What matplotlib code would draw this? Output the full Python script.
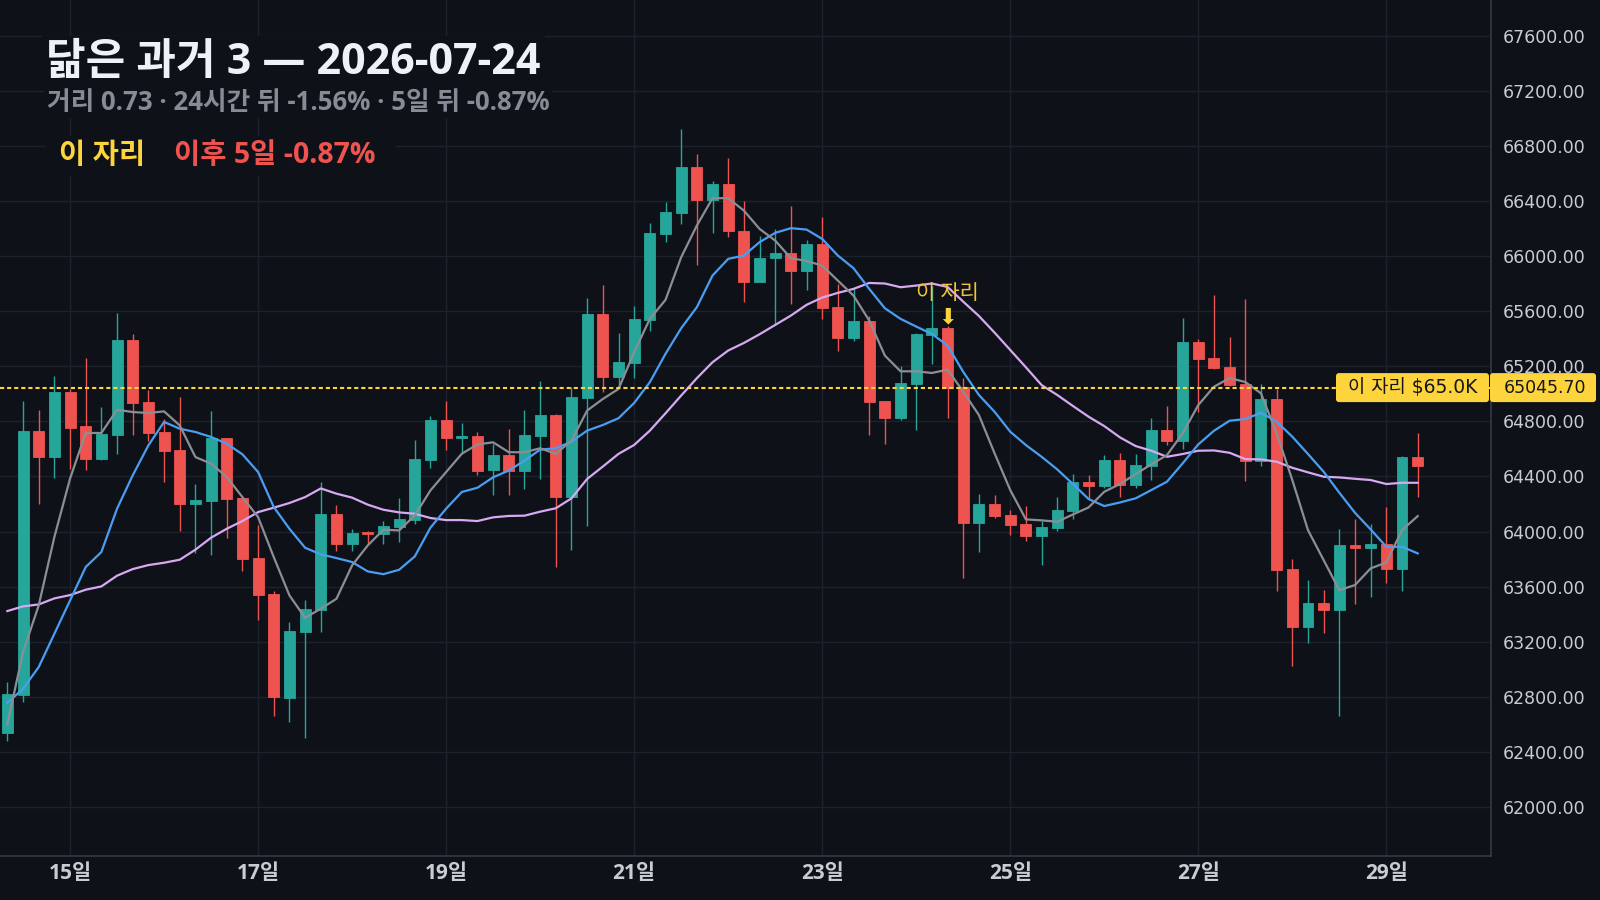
import numpy as np
import pandas as pd
import matplotlib
matplotlib.use("Agg")
import matplotlib.pyplot as plt
from matplotlib.patches import FancyBboxPatch
from matplotlib.ticker import MultipleLocator, FixedLocator
from matplotlib.transforms import IdentityTransform

plt.rcParams['font.family'] = ['Open Sans', 'Noto Sans CJK KR', 'DejaVu Sans']
num_font = ['DejaVu Sans', 'Noto Sans CJK KR']

# 4h candles
opens = [62535, 62811, 64728, 64541, 65011, 64764, 64527, 64701, 65389, 64938,
         64720, 64590, 64200, 64221, 64677, 64240, 63805, 63543, 62790, 63269,
         63427, 64124, 63906, 64000, 63980, 64030, 64081, 64517, 64808, 64677,
         64692, 64447, 64556, 64442, 64697, 64847, 64254, 64973, 65581, 65126,
         65228, 65538, 66163, 66315, 66650, 66412, 66526, 66184, 65816, 65986,
         66024, 65896, 66090, 65632, 65409, 65530, 64949, 64828, 65075, 65431,
         65479, 65052, 64064, 64199, 64119, 64054, 63969, 64027, 64151, 64359,
         64333, 64519, 64340, 64478, 64737, 64660, 65377, 65261, 65195, 65072,
         64514, 64963, 63727, 63308, 63480, 63429, 63901, 63880, 63909, 63727,
         64541]
highs = [62903, 64946, 64880, 65128, 65038, 65258, 64902, 65585, 65433, 65026,
         64815, 64975, 64343, 64873, 64680, 64240, 64044, 63565, 63339, 63499,
         64357, 64190, 64015, 64005, 64074, 64241, 64662, 64837, 64946, 64786,
         64720, 64636, 64745, 64883, 65094, 64855, 65048, 65698, 65792, 65443,
         65637, 66243, 66395, 66926, 66744, 66548, 66715, 66402, 66146, 66199,
         66364, 66119, 66286, 65799, 65768, 65564, 64949, 65201, 65443, 65782,
         65490, 65113, 64272, 64265, 64156, 64185, 64073, 64250, 64417, 64410,
         64555, 64570, 64563, 64824, 64912, 65551, 65399, 65718, 65413, 65689,
         65072, 65035, 63800, 63647, 63574, 64018, 64090, 64054, 64178, 64551,
         64715]
lows = [62475, 62760, 64200, 64389, 64452, 64444, 64520, 64563, 64701, 64657,
        64359, 64003, 63846, 63829, 63952, 63713, 63354, 62656, 62613, 62500,
        63269, 63858, 63858, 63906, 63906, 63923, 64052, 64461, 64590, 64570,
        64408, 64268, 64268, 64309, 64382, 63745, 63866, 64043, 65017, 65066,
        65116, 65460, 66106, 66235, 65937, 66170, 66143, 65671, 65816, 65511,
        65656, 65758, 65547, 65315, 65387, 64704, 64639, 64813, 64740, 65220,
        64828, 63664, 63853, 64100, 63976, 63933, 63758, 64005, 64093, 64241,
        64318, 64253, 64318, 64376, 64631, 64602, 64870, 65181, 65059, 64367,
        64478, 63569, 63024, 63191, 63264, 62658, 63475, 63526, 63628, 63569,
        64253]
closes = [62816, 64728, 64541, 65011, 64752, 64527, 64706, 65389, 64934, 64716,
          64585, 64200, 64226, 64677, 64236, 63800, 63538, 62797, 63274, 63434,
          64124, 63906, 63991, 63980, 64037, 64088, 64524, 64808, 64677, 64692,
          64437, 64556, 64442, 64702, 64847, 64254, 64978, 65581, 65126, 65232,
          65545, 66170, 66323, 66650, 66412, 66526, 66180, 65816, 65988, 66024,
          65896, 66090, 65627, 65409, 65530, 64944, 64828, 65080, 65436, 65479,
          65045.70, 64064, 64199, 64115, 64049, 63969, 64032, 64156, 64359, 64333,
          64519, 64340, 64483, 64737, 64660, 65377, 65256, 65190, 65064, 64514,
          64963, 63722, 63308, 63480, 63429, 63901, 63880, 63909, 63727, 64541,
          64476]

# moving average lines as drawn
ma_gray = [62600, 63124, 63463, 63960, 64384, 64716, 64716, 64885, 64868, 64861,
           64873, 64771, 64541, 64493, 64396, 64250, 64105, 63814, 63536, 63373,
           63439, 63511, 63754, 63899, 64013, 64008, 64117, 64299, 64432, 64565,
           64633, 64648, 64576, 64576, 64605, 64564, 64661, 64879, 64963, 65036,
           65303, 65545, 65683, 65993, 66223, 66422, 66422, 66332, 66199, 66114,
           65986, 65966, 65932, 65823, 65714, 65533, 65278, 65164, 65164, 65152,
           65176, 65016, 64846, 64568, 64301, 64088, 64081, 64071, 64124, 64175,
           64289, 64345, 64417, 64488, 64555, 64713, 64919, 65052, 65115, 65086,
           65004, 64713, 64374, 64010, 63792, 63574, 63611, 63732, 63775, 64010,
           64112]
ma_blue = [62755, 62857, 63015, 63257, 63499, 63742, 63851, 64166, 64408, 64626,
           64796, 64747, 64723, 64687, 64638, 64561, 64432, 64178, 64020, 63882,
           63834, 63807, 63778, 63710, 63690, 63722, 63819, 64028, 64166, 64287,
           64318, 64394, 64443, 64515, 64595, 64605, 64653, 64733, 64774, 64823,
           64934, 65085, 65291, 65477, 65630, 65860, 65981, 66005, 66102, 66170,
           66204, 66194, 66126, 66005, 65913, 65763, 65622, 65545, 65489, 65436,
           65351, 65160, 64992, 64870, 64725, 64628, 64543, 64451, 64345, 64236,
           64185, 64211, 64241, 64301, 64362, 64495, 64633, 64732, 64805, 64817,
           64863, 64798, 64689, 64563, 64434, 64282, 64136, 64015, 63889, 63889,
           63841]
ma_purple = [63422, 63456, 63470, 63514, 63538, 63577, 63601, 63679, 63727, 63756,
             63773, 63795, 63868, 63955, 64020, 64076, 64141, 64173, 64207, 64250,
             64313, 64275, 64246, 64195, 64158, 64139, 64129, 64098, 64083, 64083,
             64076, 64103, 64113, 64115, 64144, 64169, 64241, 64382, 64472, 64564,
             64629, 64733, 64859, 64988, 65114, 65230, 65315, 65370, 65433, 65501,
             65569, 65647, 65700, 65734, 65763, 65806, 65802, 65775, 65787, 65802,
             65777, 65670, 65566, 65445, 65319, 65193, 65064, 64992, 64912, 64834,
             64766, 64684, 64621, 64587, 64543, 64563, 64587, 64589, 64572, 64526,
             64524, 64507, 64463, 64430, 64398, 64393, 64383, 64374, 64345, 64354,
             64354]

times = pd.date_range('2026-07-14 08:00', periods=len(closes), freq='4h')
signal_time = pd.Timestamp('2026-07-24 08:00')
title = '닮은 과거 3 — 2026-07-24'
subtitle = '거리 0.73 · 24시간 뒤 -1.56% · 5일 뒤 -0.87%'
legend_labels = ['이 자리', '이후 5일 -0.87%']

bg = '#0e1118'
grid_c = '#1d212b'
up = '#26a69a'
down = '#ef5350'
gold = '#fdd43c'
W, H = 1600, 900

fig = plt.figure(figsize=(16, 9), dpi=100, facecolor=bg)
ax = fig.add_axes([0, 1 - 856.3 / H, 1490.7 / W, 856.3 / H])
ax.set_facecolor(bg)

x = np.arange(len(closes))
o = np.array(opens)
c = np.array(closes)
cols = [up if cc >= oo else down for oo, cc in zip(o, c)]
ax.vlines(x, lows, highs, colors=cols, lw=1, zorder=2)
ax.bar(x, c - o, bottom=o, width=0.7, color=cols, edgecolor=cols, linewidth=0.6, zorder=3)

ax.plot(x, ma_purple, color='#d6a9f2', lw=1.6, zorder=4)
ax.plot(x, ma_blue, color='#4a9ef2', lw=1.6, zorder=4)
ax.plot(x, ma_gray, color='#8b8e95', lw=1.6, zorder=4)

ax.set_xlim(-0.47, 94.66)
ax.set_ylim(61640, 67862)

# signal candle
sig = list(times).index(signal_time)
sig_price = closes[sig]
ax.axhline(sig_price, color=gold, lw=1.5, ls=(0, (2, 1.4)), zorder=5)
ax.annotate('이 자리', xy=(sig, highs[sig]), xytext=(0, 24), textcoords='offset points',
            ha='center', va='center', color='#f2c23a', fontsize=15, zorder=6)
ax.annotate('⬇', xy=(sig, highs[sig]), xytext=(0, 6.5), textcoords='offset points',
            ha='center', va='center', color=gold, fontsize=16, zorder=6,
            family=['DejaVu Sans'])

# axes styling
day_idx = [i for i, t in enumerate(times) if t.hour == 0 and t.day % 2 == 1]
ax.xaxis.set_major_locator(FixedLocator(day_idx))
ax.set_xticklabels([f'{times[i].day}일' for i in day_idx], fontweight='bold')
ax.yaxis.tick_right()
ax.yaxis.set_major_locator(MultipleLocator(400))
ax.yaxis.set_major_formatter(lambda v, p: f'{v:.2f}')
ax.tick_params(axis='y', length=0, pad=9, labelsize=12.5, labelcolor='#c9ccd3', labelfontfamily='DejaVu Sans')
ax.tick_params(axis='x', length=0, pad=5, labelsize=15, labelcolor='#c9ccd3')
ax.grid(True, color=grid_c, lw=1)
ax.set_axisbelow(True)
for s in ['top', 'left']:
    ax.spines[s].set_visible(False)
for s in ['right', 'bottom']:
    ax.spines[s].set_color('#353944')
    ax.spines[s].set_linewidth(1.2)

# price tags on the signal line
y_px = ax.transData.transform((0, sig_price))[1]
fig.add_artist(FancyBboxPatch((1336, y_px - 14.5), 153, 29, boxstyle='round,pad=0,rounding_size=3',
                              transform=IdentityTransform(), fc=gold, ec='none', zorder=5))
fig.text(1412.5 / W, y_px / H, f'{legend_labels[0]} ${sig_price / 1000:.1f}K', ha='center', va='center',
         fontsize=13.5, color='#15171c', zorder=6, family=num_font)
fig.add_artist(FancyBboxPatch((1490, y_px - 14.5), 106, 29, boxstyle='round,pad=0,rounding_size=3',
                              transform=IdentityTransform(), fc=gold, ec='none', zorder=5))
fig.text(1504 / W, y_px / H, f'{sig_price:.2f}', ha='left', va='center',
         fontsize=12.5, color='#15171c', zorder=6, family=num_font)

# header
fig.text(46 / W, 1 - 62 / H, title, fontsize=31, fontweight='bold', color='#eef1f5', va='center',
         bbox=dict(fc=bg, ec='none', pad=3))
fig.text(47 / W, 1 - 102 / H, subtitle, fontsize=18.5, fontweight='bold', color='#868b96', va='center',
         bbox=dict(fc=bg, ec='none', pad=2))
fig.add_artist(FancyBboxPatch((46, H - 176), 350, 40, boxstyle='square,pad=0',
                              transform=IdentityTransform(), fc=bg, ec='none', zorder=2))
fig.text(59 / W, 1 - 156 / H, legend_labels[0], fontsize=20.5, fontweight='bold', color=gold, va='center')
fig.text(174 / W, 1 - 156 / H, legend_labels[1], fontsize=20.5, fontweight='bold', color=down, va='center')

fig.savefig('out.png', dpi=100, facecolor=bg)
